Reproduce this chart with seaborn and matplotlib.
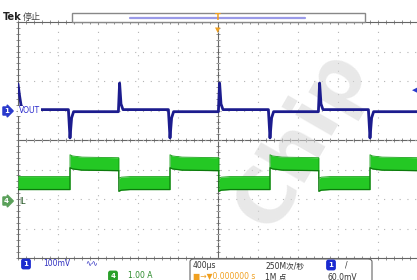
import matplotlib
matplotlib.use("Agg")
import matplotlib.pyplot as plt
import seaborn as sns
import numpy as np
from matplotlib.ticker import MultipleLocator
from matplotlib.patches import Rectangle, FancyBboxPatch

# VOUT trace (time in divisions, amplitude in divisions)
vout_t = [0.0, 0.04, 0.075, 0.125,
          1.26, 1.30, 1.34, 1.39,
          2.51, 2.54, 2.575, 2.625,
          3.76, 3.80, 3.84, 3.89,
          5.01, 5.04, 5.075, 5.125,
          6.26, 6.30, 6.34, 6.39,
          7.51, 7.54, 7.575, 7.625,
          8.76, 8.80, 8.84, 8.89,
          10.0]
vout_v = [1.90, 1.49, 1.19, 1.03,
          1.03, 0.07, 0.75, 0.96,
          0.96, 1.93, 1.22, 1.03,
          1.03, 0.07, 0.75, 0.96,
          0.96, 1.93, 1.22, 1.03,
          1.03, 0.07, 0.75, 0.96,
          0.96, 1.93, 1.22, 1.03,
          1.03, 0.07, 0.75, 0.96,
          0.96]

# IL trace (band centre)
il_t = [0.0, 1.30, 1.30, 1.36, 1.60, 2.52, 2.52, 2.58, 2.80,
        3.80, 3.80, 3.86, 4.10, 5.02, 5.02, 5.08, 5.30,
        6.30, 6.30, 6.36, 6.60, 7.52, 7.52, 7.58, 7.80,
        8.80, 8.80, 8.86, 9.10, 10.0]
il_a = [-1.46, -1.46, -0.72, -0.76, -0.80, -0.82, -1.52, -1.48, -1.46,
        -1.46, -0.72, -0.76, -0.80, -0.82, -1.52, -1.48, -1.46,
        -1.46, -0.72, -0.76, -0.80, -0.82, -1.52, -1.48, -1.46,
        -1.46, -0.72, -0.76, -0.80, -0.82]

W, H = 417, 280
sns.set_style("white")
plt.rcParams['font.family'] = ['DejaVu Sans', 'Noto Sans CJK SC']

fig = plt.figure(figsize=(W / 100, H / 100), dpi=100)
fig.patch.set_facecolor('white')
ax = fig.add_axes([18 / W, 22 / H, 400 / W, 236 / H])

def fx(px):
    return px / W

def fy(py):
    return 1 - py / H

TICK = '#666666'
# graticule
ax.set_xlim(0, 10)
ax.set_ylim(-4, 4)
ax.set_xticks(range(11))
ax.set_yticks(range(-4, 5))
ax.xaxis.set_minor_locator(MultipleLocator(0.2))
ax.yaxis.set_minor_locator(MultipleLocator(0.2))
ax.grid(True, color='#b4b4b4', linestyle=(0, (1, 6)), lw=0.8)
ax.tick_params(which='both', direction='inout', length=3.5, width=0.5, color=TICK,
               top=True, bottom=True, left=True, right=False,
               labelbottom=False, labelleft=False)
for sp in ax.spines.values():
    sp.set_color('#666666')
    sp.set_linewidth(0.8)

secx = ax.secondary_xaxis(0.5)
secx.set_xticks(range(11))
secx.xaxis.set_minor_locator(MultipleLocator(0.2))
secx.tick_params(which='both', direction='inout', length=3.5, width=0.5, color=TICK,
                 labelbottom=False, labeltop=False)
secy = ax.secondary_yaxis(0.5)
secy.set_yticks(range(-4, 5))
secy.yaxis.set_minor_locator(MultipleLocator(0.2))
secy.tick_params(which='both', direction='inout', length=3.5, width=0.5, color=TICK,
                 labelleft=False, labelright=False)
for s in (secx, secy):
    for sp in s.spines.values():
        sp.set_color('#666666')
        sp.set_linewidth(0.8)

# watermark, behind the traces
ax.text(0.71, 0.5, 'Chip', transform=ax.transAxes, fontsize=55, fontweight='bold',
        color='#d6d6d6', alpha=0.55, rotation=60, ha='center', va='center', zorder=2)

# traces
il_t_arr = np.array(il_t)
il_a_arr = np.array(il_a)
half = 0.22
ax.fill_between(il_t_arr, il_a_arr - half, il_a_arr + half, color='#24c824', lw=0, zorder=3)
sns.lineplot(x=il_t_arr, y=il_a_arr + half, sort=False, estimator=None, color='#15a015', lw=0.6, ax=ax, zorder=4)
sns.lineplot(x=il_t_arr, y=il_a_arr - half, sort=False, estimator=None, color='#0c7a0c', lw=0.9, ax=ax, zorder=4)
sns.lineplot(x=vout_t, y=vout_v, sort=False, estimator=None, color='#1c1c8e', lw=2.0, ax=ax, zorder=5)

# channel markers
fig.text(fx(4), fy(111), '1', fontsize=5, color='white', fontweight='bold', va='center',
         bbox=dict(boxstyle='rarrow,pad=0.15', fc='#2a3acc', ec='#2a3acc'))
fig.text(fx(19), fy(111), 'VOUT', fontsize=5.5, color='#2a2acc', va='center',
         bbox=dict(boxstyle='square,pad=0.1', fc='white', ec='none'))
fig.text(fx(4), fy(201), '4', fontsize=5, color='white', fontweight='bold', va='center',
         bbox=dict(boxstyle='rarrow,pad=0.15', fc='#5aa05a', ec='#5aa05a'))
fig.text(fx(19), fy(201), 'IL', fontsize=5.5, color='#2a5a2a', va='center')
fig.text(fx(417), fy(90), '\u25c0', fontsize=5, color='#2a3acc', ha='right', va='center')

# header
fig.text(fx(3), fy(17), 'Tek', fontsize=7, fontweight='bold', color='#222222', va='center')
fig.text(fx(23), fy(17), '停止', fontsize=6.5, color='#444444', va='center')
fig.add_artist(Rectangle((fx(72), fy(22)), fx(365) - fx(72), fy(13) - fy(22),
                         transform=fig.transFigure, fc='white', ec='#888888', lw=1.0))
fig.add_artist(plt.Line2D([fx(130), fx(305)], [fy(17.5), fy(17.5)], transform=fig.transFigure,
                          color='#9a9ae8', lw=1.6))
fig.text(fx(218), fy(17), 'T', fontsize=6, color='#f0a020', fontweight='bold', ha='center', va='center')
fig.text(fx(218), fy(30), '\u25bc', fontsize=5, color='#f0a020', ha='center', va='center')

# status panel
fig.text(fx(26), fy(264), '1', fontsize=5, color='white', fontweight='bold', ha='center', va='center',
         bbox=dict(boxstyle='round,pad=0.25', fc='#1a2ad0', ec='#1a2ad0'))
fig.text(fx(43), fy(264), '100mV', fontsize=5.5, color='#3030c0', va='center')
fig.text(fx(85), fy(264), '\u223f\u223f', fontsize=5.5, color='#3030c0', va='center')
fig.text(fx(113), fy(276), '4', fontsize=5, color='white', fontweight='bold', ha='center', va='center',
         bbox=dict(boxstyle='round,pad=0.25', fc='#2aa02a', ec='#2aa02a'))
fig.text(fx(128), fy(276), '1.00 A', fontsize=5.5, color='#2a8a2a', va='center')
fig.add_artist(FancyBboxPatch((fx(190), fy(284)), fx(372) - fx(190), fy(259) - fy(284),
                              boxstyle='round,pad=0,rounding_size=0.01', transform=fig.transFigure,
                              fc='white', ec='#666666', lw=0.8))
fig.text(fx(193), fy(266), '400µs', fontsize=5.5, color='#333333', va='center')
fig.text(fx(193), fy(277), '\u25a0\u2192\u25bc0.000000 s', fontsize=5.5, color='#f0a020', va='center')
fig.text(fx(265), fy(266), '250M次/秒', fontsize=5.5, color='#333333', va='center')
fig.text(fx(265), fy(277), '1M 点', fontsize=5.5, color='#333333', va='center')
fig.text(fx(331), fy(265), '1', fontsize=5, color='white', fontweight='bold', ha='center', va='center',
         bbox=dict(boxstyle='round,pad=0.25', fc='#1a2ad0', ec='#1a2ad0'))
fig.text(fx(345), fy(265), '/', fontsize=5.5, color='#333333', va='center')
fig.text(fx(328), fy(277), '60.0mV', fontsize=5.5, color='#333333', va='center')

fig.savefig('out.png', dpi=100)
